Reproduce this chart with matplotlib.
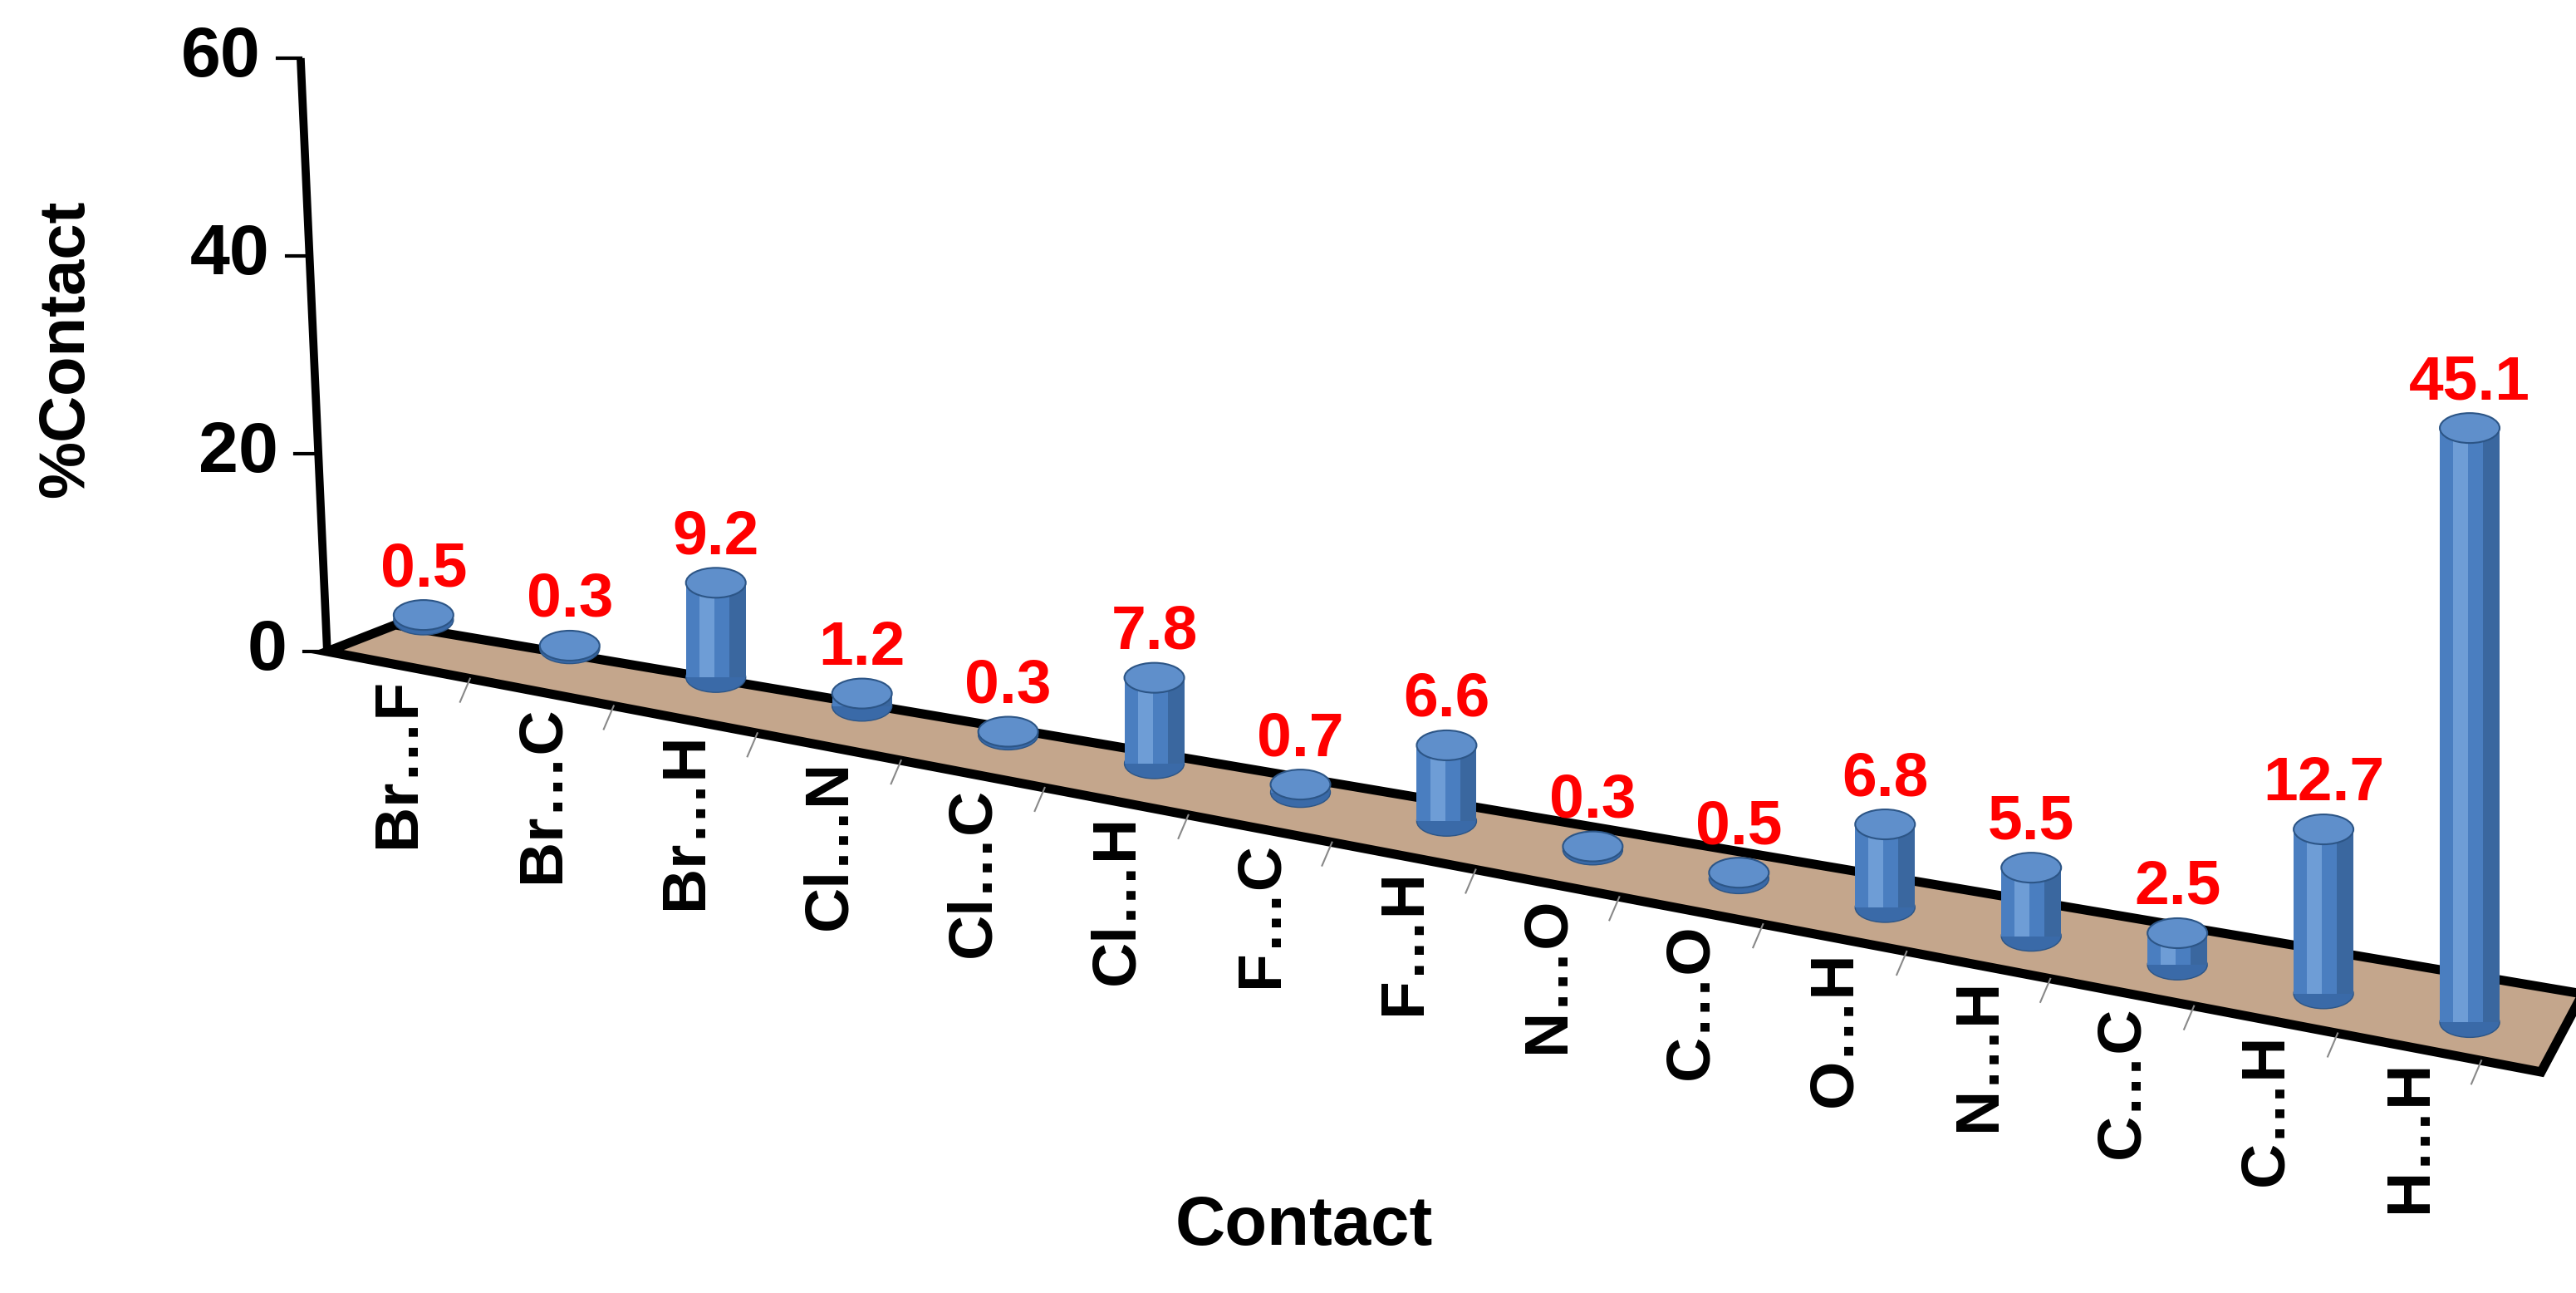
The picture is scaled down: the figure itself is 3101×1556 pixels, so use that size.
import matplotlib.pyplot as plt
from matplotlib.patches import Polygon, Ellipse, Rectangle
import numpy as np

contacts = ["Br…F", "Br…C", "Br…H", "Cl…N", "Cl…C", "Cl…H", "F…C", "F…H",
            "N…O", "C…O", "O…H", "N…H", "C…C", "C…H", "H…H"]
values = [0.5, 0.3, 9.2, 1.2, 0.3, 7.8, 0.7, 6.6, 0.3, 0.5, 6.8, 5.5, 2.5, 12.7, 45.1]
yticks = [0, 20, 40, 60]

W, H = 1551, 778
fig = plt.figure(figsize=(31.01, 15.56), dpi=100)
ax = fig.add_axes([0, 0, 1, 1])
ax.set_xlim(0, W)
ax.set_ylim(H, 0)
ax.axis("off")

FONT = "Liberation Sans"

# floor strip (pseudo 3D)
floor = Polygon([(197, 392), (238, 376), (1555, 598), (1530, 645)], closed=True,
                facecolor="#C4A68C", edgecolor="black", lw=8, zorder=1)
ax.add_patch(floor)


def front_y(x):
    return 392 + (645 - 392) / (1530 - 197) * (x - 197)


# value axis
ax.plot([181, 197], [35, 392], color="black", lw=7, zorder=2, solid_capstyle="butt")
for t in yticks:
    frac = t / 60
    y = 392 - frac * (392 - 35)
    x = 197 - frac * (197 - 181)
    ax.plot([x - 14, x], [y, y], color="black", lw=3, zorder=2)
    ax.text(x - 24, y, str(t), ha="right", va="center", fontsize=62,
            fontweight="bold", family=FONT)

# bars as cylinders
r, ry = 18, 9
for i, (name, v) in enumerate(zip(contacts, values)):
    cx = 255 + 88.0 * i
    cy = 373 + 17.3 * i
    scale = 5.9 + 0.145 * i
    top = cy - v * scale
    ax.add_patch(Ellipse((cx, cy), 2 * r, 2 * ry, facecolor="#3A6AA8",
                         edgecolor="#2C5586", lw=1, zorder=3))
    ax.add_patch(Rectangle((cx - r, top), 2 * r, cy - top, facecolor="#4A7EC0",
                           edgecolor="none", zorder=3))
    # shading
    ax.add_patch(Rectangle((cx - r * 0.55, top), r * 0.5, cy - top,
                           facecolor="#6E9DD6", edgecolor="none", zorder=3))
    ax.add_patch(Rectangle((cx + r * 0.45, top), r * 0.55, cy - top,
                           facecolor="#3A679F", edgecolor="none", zorder=3))
    ax.add_patch(Ellipse((cx, top), 2 * r, 2 * ry, facecolor="#5F8FCB",
                         edgecolor="#2C5586", lw=1.5, zorder=4))
    ax.text(cx, top - 10, f"{v}", ha="center", va="bottom", color="#FF0000",
            fontsize=54, fontweight="bold", family=FONT, zorder=5)

    # category labels and ticks on the front edge
    lx = 240 + 86.5 * i
    ax.text(lx, front_y(lx) + 8, name, rotation=90, ha="center", va="top",
            fontsize=54, fontweight="bold", family=FONT)
    tx = lx + 43
    ax.plot([tx, tx - 6], [front_y(tx), front_y(tx) + 14], color="#888888", lw=1.5, zorder=2)

ax.text(785, 738, "Contact", ha="center", va="center", fontsize=60,
        fontweight="bold", family=FONT)
ax.text(40, 210, "%Contact", rotation=90, ha="center", va="center", fontsize=56,
        fontweight="bold", family=FONT)

fig.savefig("out.png", dpi=100, facecolor="white")
